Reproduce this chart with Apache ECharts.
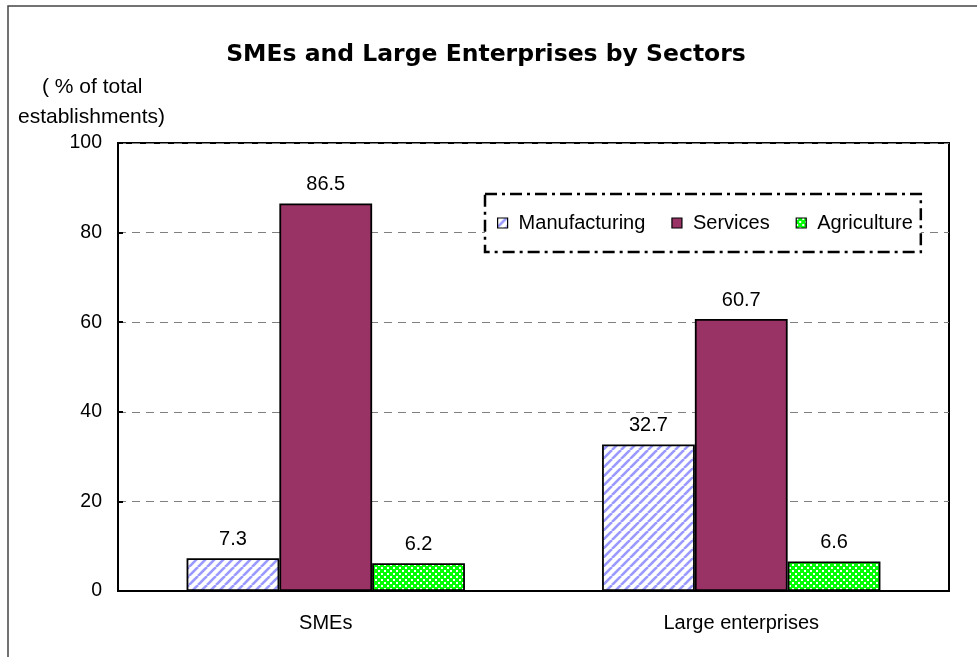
<!DOCTYPE html>
<html>
<head>
<meta charset="utf-8">
<script src="https://cdn.jsdelivr.net/npm/echarts@6/dist/echarts.min.js"></script>
<style>
  html, body { margin: 0; padding: 0; background: #fff; }
  #chart { width: 977px; height: 657px; }
</style>
</head>
<body>
<div id="chart"></div>
<script>
const categories = ['SMEs', 'Large enterprises'];
const seriesNames = ['Manufacturing', 'Services', 'Agriculture'];
const manufacturing = [7.3, 32.7];
const services = [86.5, 60.7];
const agriculture = [6.2, 6.6];
const yTicks = [0, 20, 40, 60, 80, 100];

const FONT = 'Liberation Sans, Arial, sans-serif';

// Diagonal light-blue hatch for manufacturing
function stripePattern() {
  const c = document.createElement('canvas');
  c.width = 9; c.height = 9;
  const g = c.getContext('2d');
  g.fillStyle = '#ffffff';
  g.fillRect(0, 0, 9, 9);
  g.strokeStyle = '#9999ff';
  g.lineWidth = 2.6;
  for (let k = -9; k <= 18; k += 9) {
    g.beginPath();
    g.moveTo(k, 9);
    g.lineTo(k + 9, 0);
    g.stroke();
  }
  return c;
}

// Small green/white checker for agriculture
function checkerPattern() {
  const c = document.createElement('canvas');
  c.width = 6; c.height = 6;
  const g = c.getContext('2d');
  g.fillStyle = '#00ff00';
  g.fillRect(0, 0, 6, 6);
  g.fillStyle = '#ffffff';
  g.fillRect(0, 0, 2, 2);
  g.fillRect(3, 3, 2, 2);
  return c;
}

const chart = echarts.init(document.getElementById('chart'), null, { renderer: 'canvas' });

const labelStyle = {
  show: true,
  position: 'top',
  distance: 9,
  color: '#000',
  fontFamily: FONT,
  fontSize: 20,
  formatter: p => p.value.toFixed(1)
};

const barBorder = { borderColor: '#000', borderWidth: 1.8 };

chart.setOption({
  animation: false,
  backgroundColor: '#fff',
  title: {
    text: 'SMEs and Large Enterprises by Sectors',
    left: 481,
    top: 38,
    textAlign: 'center',
    textStyle: {
      fontFamily: 'DejaVu Sans, Verdana, sans-serif',
      fontWeight: 'bold',
      fontSize: 23.5,
      color: '#000'
    }
  },
  graphic: [
    {
      type: 'rect',
      shape: { x: 8, y: 6, width: 1000, height: 700 },
      style: { fill: 'none', stroke: '#444', lineWidth: 1.5 },
      silent: true
    },
    {
      type: 'text',
      left: 42,
      top: 77,
      style: {
        text: '( % of total',
        font: '21px "Liberation Sans", Arial, sans-serif',
        fill: '#000'
      }
    },
    {
      type: 'text',
      left: 18,
      top: 107,
      style: {
        text: 'establishments)',
        font: '21px "Liberation Sans", Arial, sans-serif',
        fill: '#000'
      }
    }
  ],
  legend: {
    data: seriesNames,
    left: 485,
    top: 194,
    padding: [19, 8, 19, 12],
    itemWidth: 10,
    itemHeight: 10,
    itemGap: 26,
    icon: 'rect',
    borderColor: '#000',
    borderWidth: 2.5,
    borderType: [12, 5, 3, 5],
    backgroundColor: '#fff',
    itemStyle: { borderColor: '#000', borderWidth: 1.2 },
    textStyle: {
      fontFamily: FONT,
      fontSize: 20,
      color: '#000',
      padding: [0, 0, 0, 6]
    }
  },
  grid: {
    left: 118,
    top: 143,
    right: 28,
    bottom: 66,
    show: true,
    borderColor: '#000',
    borderWidth: 2,
    containLabel: false
  },
  xAxis: {
    type: 'category',
    data: categories,
    axisLine: { lineStyle: { color: '#000', width: 2 } },
    axisTick: { inside: true, length: 6, lineStyle: { color: '#000', width: 2 } },
    axisLabel: {
      margin: 22,
      color: '#000',
      fontFamily: FONT,
      fontSize: 20
    },
    splitLine: { show: false }
  },
  yAxis: {
    type: 'value',
    min: yTicks[0],
    max: yTicks[yTicks.length - 1],
    interval: yTicks[1] - yTicks[0],
    axisLine: { show: true, lineStyle: { color: '#000', width: 2 } },
    axisTick: { show: true, inside: true, length: 5, lineStyle: { color: '#000', width: 2 } },
    axisLabel: {
      margin: 16,
      padding: [5, 0, 0, 0],
      color: '#000',
      fontFamily: FONT,
      fontSize: 19.5
    },
    splitLine: {
      show: true,
      lineStyle: { color: '#808080', type: [8, 6], width: 1 }
    }
  },
  series: [
    {
      name: seriesNames[0],
      type: 'bar',
      data: manufacturing,
      barGap: '0%',
      barCategoryGap: '33%',
      itemStyle: Object.assign({ color: { image: stripePattern(), repeat: 'repeat' } }, barBorder),
      label: labelStyle
    },
    {
      name: seriesNames[1],
      type: 'bar',
      data: services,
      barGap: '0%',
      barCategoryGap: '33%',
      itemStyle: Object.assign({ color: '#993366' }, barBorder),
      label: labelStyle
    },
    {
      name: seriesNames[2],
      type: 'bar',
      data: agriculture,
      barGap: '0%',
      barCategoryGap: '33%',
      itemStyle: Object.assign({ color: { image: checkerPattern(), repeat: 'repeat' } }, barBorder),
      label: labelStyle
    }
  ]
});
</script>
</body>
</html>
